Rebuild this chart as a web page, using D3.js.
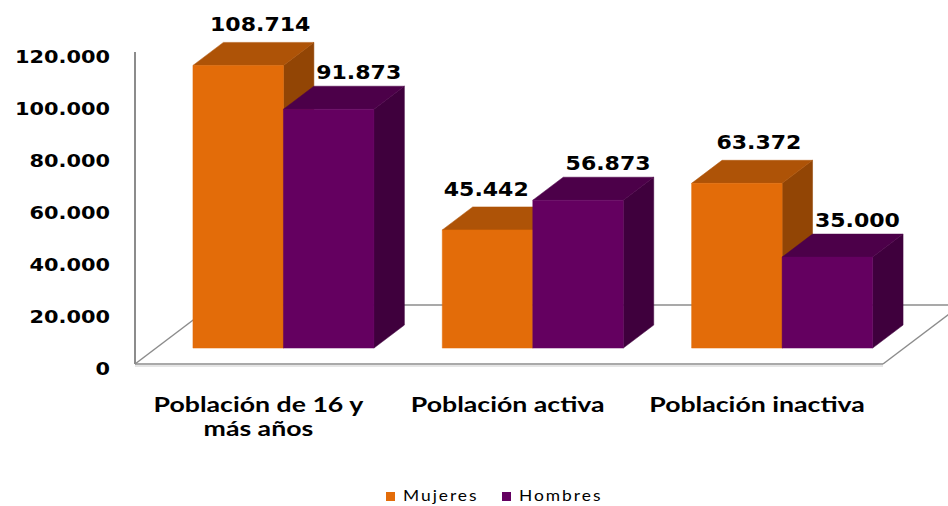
<!DOCTYPE html>
<html>
<head>
<meta charset="utf-8">
<script src="https://cdn.jsdelivr.net/npm/d3@7"></script>
<style>
  body { margin: 0; background: #ffffff; }
  svg { display: block; }
</style>
</head>
<body>
<svg id="chart" width="948" height="506"></svg>
<script>
// ---- data -------------------------------------------------------------
const categories = ["Población de 16 y más años", "Población activa", "Población inactiva"];
const series = ["Mujeres", "Hombres"];
const mujeres = [108714, 45442, 63372];
const hombres = [91873, 56873, 35000];
const yTicks = [0, 20000, 40000, 60000, 80000, 100000, 120000];

const seriesValues = { Mujeres: mujeres, Hombres: hombres };
const palette = {
  Mujeres: { front: "#E36C09", top: "#AE5307", side: "#924505" },
  Hombres: { front: "#640060", top: "#4C0049", side: "#3F003D" }
};

// Spanish number formatting: 108.714
const es = d3.formatLocale({ decimal: ",", thousands: ".", grouping: [3], currency: ["", " €"] });
const fmt = es.format(",d");

// ---- geometry ---------------------------------------------------------
const svg = d3.select("#chart");
const SX = 1.16;                 // horizontal stretch applied to text
const SXcat = 1.27;              // stretch for the category labels
const floorLeft = 135, floorRight = 883, baseY = 364;
const depthX = 78, depthY = 59;  // oblique offset of the full floor depth
const zFront = 0.27, zBack = 0.66;

const y = d3.scaleLinear().domain([0, 120000]).range([baseY, baseY - 312]);
const x = d3.scaleBand().domain(categories).range([floorLeft, floorRight])
  .paddingInner(0.274).paddingOuter(0.137).align(0.54);
const xs = d3.scaleBand().domain(series).range([0, x.bandwidth()]);

// oblique projection: (horizontal position, value, depth 0..1) -> screen
const proj = (px, v, z) => [px + z * depthX, y(v) - z * depthY];
const poly = pts => pts.map(p => p.join(",")).join(" ");

// ---- floor and axis line ------------------------------------------------
const g = svg.append("g");
const fl = proj(floorLeft, 0, 0), fr = proj(floorRight, 0, 0);
const bl = proj(floorLeft, 0, 1), br = proj(floorRight, 0, 1);

g.append("polygon").attr("points", poly([fl, fr, br, bl])).attr("fill", "#ffffff");
g.append("line").attr("x1", fl[0]).attr("y1", fl[1] + 2).attr("x2", fr[0]).attr("y2", fr[1] + 2)
  .attr("stroke", "#dcdcdc").attr("stroke-width", 1.5);
[[fl, fr], [fl, bl], [fr, br], [bl, br]].forEach(([a, b]) => {
  g.append("line").attr("x1", a[0]).attr("y1", a[1]).attr("x2", b[0]).attr("y2", b[1])
    .attr("stroke", "#8c8c8c").attr("stroke-width", 1.5);
});
const axTop = proj(floorLeft, 120000, 0);
g.append("line").attr("x1", fl[0]).attr("y1", fl[1]).attr("x2", axTop[0]).attr("y2", axTop[1])
  .attr("stroke", "#8c8c8c").attr("stroke-width", 2);

// ---- y tick labels ------------------------------------------------------
svg.append("g").selectAll("text").data(yTicks).join("text")
  .attr("transform", d => `translate(110,${y(d) + 10.5}) scale(${SX},1)`)
  .attr("text-anchor", "end")
  .attr("font-family", "DejaVu Sans, Verdana, sans-serif")
  .attr("font-weight", "bold").attr("font-size", 18).attr("fill", "#000")
  .text(d => d === 0 ? "0" : fmt(d));

// ---- 3D bars --------------------------------------------------------------
const bars = [];
categories.forEach((c, i) => {
  series.forEach(s => bars.push({ cat: c, s, v: seriesValues[s][i] }));
});

const barG = svg.append("g");
bars.forEach(d => {
  const x0 = x(d.cat) + xs(d.s), x1 = x0 + xs.bandwidth();
  const col = palette[d.s];
  const gb = barG.append("g");
  // right side
  gb.append("polygon")
    .attr("points", poly([proj(x1, 0, zFront), proj(x1, 0, zBack), proj(x1, d.v, zBack), proj(x1, d.v, zFront)]))
    .attr("fill", col.side).attr("stroke", col.side).attr("stroke-width", 0.5);
  // top
  gb.append("polygon")
    .attr("points", poly([proj(x0, d.v, zFront), proj(x1, d.v, zFront), proj(x1, d.v, zBack), proj(x0, d.v, zBack)]))
    .attr("fill", col.top).attr("stroke", col.top).attr("stroke-width", 0.5);
  // front
  gb.append("polygon")
    .attr("points", poly([proj(x0, 0, zFront), proj(x1, 0, zFront), proj(x1, d.v, zFront), proj(x0, d.v, zFront)]))
    .attr("fill", col.front).attr("stroke", col.front).attr("stroke-width", 0.5);
});

// ---- value labels ----------------------------------------------------------
// Placed above the bar top; a label of the first series is pushed left
// when the neighbouring bar is taller, so it does not run into it.
const labG = svg.append("g");
bars.forEach(d => {
  const first = d.s === series[0];
  const front = proj(x(d.cat) + xs(d.s) + xs.bandwidth() / 2, d.v, zFront);
  const top = proj(0, d.v, zBack)[1];
  const t = labG.append("text")
    .attr("text-anchor", "middle")
    .attr("font-family", "DejaVu Sans, Verdana, sans-serif")
    .attr("font-weight", "bold").attr("font-size", 19).attr("fill", "#000")
    .text(fmt(d.v));
  const w = t.node().getComputedTextLength() * SX;
  let cx = front[0] + (first ? 22 : 30);
  if (first) {
    const next = bars.find(b => b.cat === d.cat && b.s === series[1]);
    if (next.v > d.v) {
      const limit = proj(x(d.cat) + xs(next.s), next.v, zFront)[0] - 4;
      cx = Math.min(cx, limit - w / 2);
    }
  }
  t.attr("transform", `translate(${cx},${top - (first ? 11 : 7)}) scale(${SX},1)`);
});

// ---- category labels (wrapped) -----------------------------------------------
const catG = svg.append("g");
const maxW = 228;
categories.forEach(c => {
  const t = catG.append("text")
    .attr("transform", `translate(${x(c) + x.bandwidth() / 2 - 4},412) scale(${SXcat},1)`)
    .attr("text-anchor", "middle")
    .attr("font-family", "Lato, 'Open Sans', sans-serif")
    .attr("font-weight", "bold").attr("font-size", 21).attr("fill", "#000");
  const words = c.split(" ");
  let line = [], lineNo = 0;
  let ts = t.append("tspan").attr("x", 0).attr("y", 0);
  words.forEach(w => {
    line.push(w);
    ts.text(line.join(" "));
    if (ts.node().getComputedTextLength() * SXcat > maxW && line.length > 1) {
      line.pop();
      ts.text(line.join(" "));
      line = [w];
      lineNo++;
      ts = t.append("tspan").attr("x", 0).attr("y", lineNo * 24).text(w);
    }
  });
});

// ---- legend ------------------------------------------------------------------
const leg = svg.append("g");
const legX = [386, 502];
series.forEach((s, i) => {
  leg.append("rect").attr("x", legX[i]).attr("y", 492).attr("width", 9).attr("height", 9)
    .attr("fill", palette[s].front);
  leg.append("text")
    .attr("transform", `translate(${legX[i] + 17},501) scale(${SX},1)`)
    .attr("font-family", "Lato, 'Open Sans', sans-serif")
    .attr("font-size", 15).attr("fill", "#000")
    .attr("letter-spacing", 1.7)
    .text(s);
});
</script>
</body>
</html>
